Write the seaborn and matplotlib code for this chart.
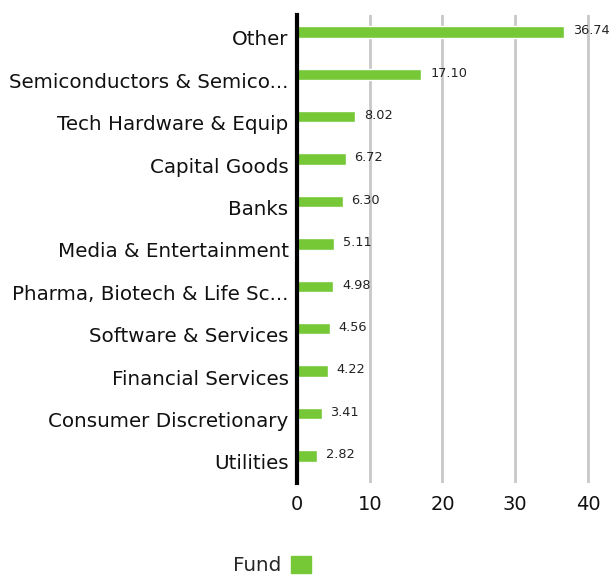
import matplotlib
matplotlib.use("Agg")
import matplotlib.pyplot as plt
import matplotlib.transforms as mtransforms
import seaborn as sns
import pandas as pd
from matplotlib.patches import Patch

categories = ["Other", "Semiconductors & Semico...", "Tech Hardware & Equip", "Capital Goods",
              "Banks", "Media & Entertainment", "Pharma, Biotech & Life Sc...",
              "Software & Services", "Financial Services", "Consumer Discretionary", "Utilities"]
values = [36.74, 17.10, 8.02, 6.72, 6.30, 5.11, 4.98, 4.56, 4.22, 3.41, 2.82]
xticks = [0, 10, 20, 30, 40]

sns.set_theme(style="white")
plt.rcParams['font.family'] = ['DejaVu Sans']

df = pd.DataFrame({"cat": categories, "val": values})
green = "#76C837"

fig = plt.figure(figsize=(6.11, 5.77), dpi=100)
ax = fig.add_axes([0.486, 0.163, 0.512, 0.811])
sns.barplot(data=df, x="val", y="cat", color=green, width=0.27, ax=ax, saturation=1)
ax.set_xlim(0, 43)
ax.set_ylim(10.64, -0.4)
ax.set_xticks(xticks)
ax.set_xticklabels([str(t) for t in xticks], fontsize=14, color="#111111")
ax.tick_params(axis='y', labelsize=14.3, colors="#111111", length=0, pad=6)
ax.tick_params(axis='x', length=0, pad=9)
ax.set_xlabel("")
ax.set_ylabel("")
off = mtransforms.ScaledTranslation(0, -6 / 100, fig.dpi_scale_trans)
for lab in ax.get_yticklabels():
    lab.set_transform(lab.get_transform() + off)
for s in ["top", "right", "bottom"]:
    ax.spines[s].set_visible(False)
ax.spines["left"].set_color("black")
ax.spines["left"].set_linewidth(3)
ax.xaxis.grid(True, color="#c8c8c8", linewidth=2)
ax.set_axisbelow(True)
for i, v in enumerate(values):
    ax.text(v + 1.2, i - 0.03, f"{v:.2f}", fontsize=9.3, color="#222222", va="center", ha="left")

fig.legend(handles=[Patch(color=green, label="Fund")], loc="center", bbox_to_anchor=(0.445, 0.02),
           frameon=False, markerfirst=False, fontsize=14.3, handlelength=1.0, handleheight=1.0,
           handletextpad=0.5)
fig.savefig("out.png", dpi=100)
